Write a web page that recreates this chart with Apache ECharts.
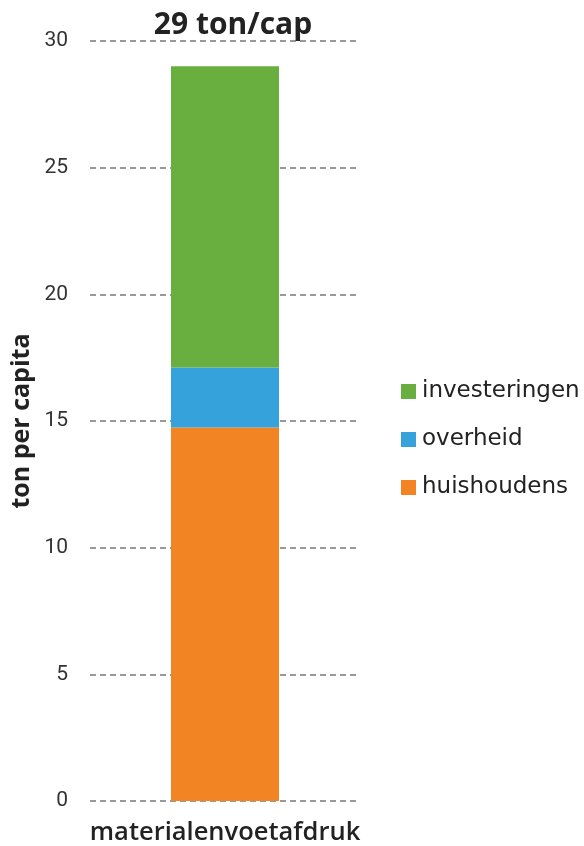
<!DOCTYPE html>
<html><head><meta charset="utf-8">
<script src="https://cdn.jsdelivr.net/npm/echarts@6/dist/echarts.min.js"></script>
<style>html,body{margin:0;padding:0;background:#fff}#c{width:584px;height:846px}</style>
</head><body><div id="c"></div>
<script>
const categories = ['materialenvoetafdruk'];
const huishoudens = [14.74];
const overheid = [2.37];
const investeringen = [11.89];
const titleText = '29 ton/cap';
const yTicks = [0, 5, 10, 15, 20, 25, 30];

const chart = echarts.init(document.getElementById('c'));
chart.setOption({
  animation: false,
  title: {
    text: titleText, left: 228, textAlign: 'center', top: 5,
    textStyle: { fontFamily: 'Open Sans', fontSize: 30, fontWeight: 'bold', color: '#222' }
  },
  legend: {
    orient: 'vertical', left: 401, top: 380, padding: 0,
    itemWidth: 15, itemHeight: 15, itemGap: 25, icon: 'rect',
    data: ['investeringen', 'overheid', 'huishoudens'],
    textStyle: { fontFamily: 'DejaVu Sans', fontSize: 23, lineHeight: 22, color: '#222', padding: [0, 0, 0, 1] }
  },
  grid: { left: 90, right: 224, top: 41, bottom: 45 },
  xAxis: {
    type: 'category', data: categories,
    axisLine: { show: false }, axisTick: { show: false },
    axisLabel: { fontFamily: 'Open Sans', fontSize: 25.5, fontWeight: 600, color: '#222', margin: 19 }
  },
  yAxis: {
    type: 'value', min: yTicks[0], max: yTicks[yTicks.length - 1], interval: 5,
    name: 'ton per capita', nameLocation: 'middle', nameGap: 56,
    nameTextStyle: { fontFamily: 'Open Sans', fontSize: 25, fontWeight: 'bold', color: '#222' },
    axisLine: { show: false }, axisTick: { show: false },
    axisLabel: { fontFamily: 'Roboto', fontSize: 21, color: '#333', margin: 22 },
    splitLine: { lineStyle: { color: '#999', width: 2, type: [6, 4] } }
  },
  series: [
    { name: 'huishoudens', type: 'bar', stack: 't', data: huishoudens, barWidth: 108, itemStyle: { color: '#F38423' } },
    { name: 'overheid', type: 'bar', stack: 't', data: overheid, itemStyle: { color: '#35A2DB' } },
    { name: 'investeringen', type: 'bar', stack: 't', data: investeringen, itemStyle: { color: '#69AF3F' } }
  ]
});
</script></body></html>
